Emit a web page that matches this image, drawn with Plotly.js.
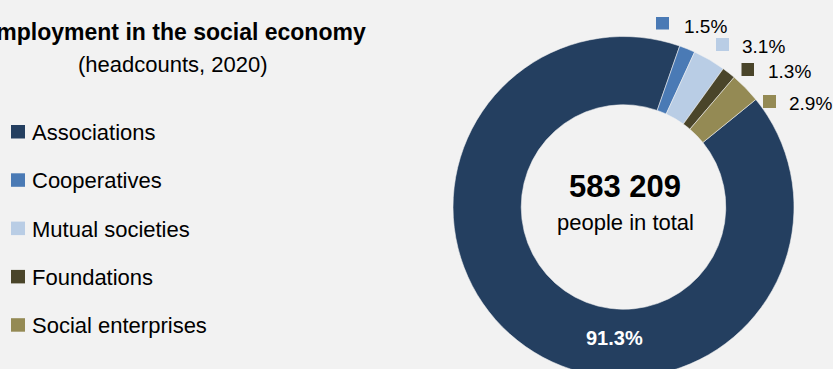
<!DOCTYPE html>
<html>
<head>
<meta charset="utf-8">
<script src="https://cdn.plot.ly/plotly-3.0.1.min.js"></script>
<style>
html,body{margin:0;padding:0;background:#f2f2f2;overflow:hidden;width:833px;height:369px;}
#chart{width:833px;height:390px;}
</style>
</head>
<body>
<div id="chart"></div>
<script>
// ---- data ----
const categories = ['Associations', 'Cooperatives', 'Mutual societies', 'Foundations', 'Social enterprises'];
const shares = [91.3, 1.5, 3.1, 1.3, 2.9];
const totalPeople = '583 209';
const titleText = 'Employment in the social economy';
const subtitleText = '(headcounts, 2020)';
const centerSubText = 'people in total';

// ---- styles ----
const colors = ['#243f60', '#4a7ab5', '#b9cde5', '#4a452a', '#948a54'];
const W = 833, H = 390;
const FONT = 'Liberation Sans, Arial, sans-serif';
const px = x => x / W;
const py = y => 1 - y / H;

const shareText = shares.map(v => v.toFixed(1) + '%');

const cx = 623.5, cy = 207, R = 170.5;

const data = [{
  type: 'pie',
  labels: categories,
  values: shares,
  sort: false,
  direction: 'clockwise',
  rotation: 50.9,
  hole: 0.6,
  textinfo: 'none',
  hoverinfo: 'skip',
  showlegend: false,
  marker: {colors: colors, line: {color: 'rgba(242,242,242,0.7)', width: 0.8}},
  domain: {x: [px(cx - R), px(cx + R)], y: [py(cy + R), py(cy - R)]}
}];

const annotations = [];
const shapes = [];

function addText(text, x, y, size, color, anchor) {
  annotations.push({
    xref: 'paper', yref: 'paper', x: px(x), y: py(y),
    xanchor: anchor || 'left', yanchor: 'middle',
    text: text, showarrow: false,
    font: {family: FONT, size: size, color: color || '#000'}
  });
}
function addSquare(x0, y0, x1, y1, color) {
  shapes.push({
    type: 'rect', xref: 'paper', yref: 'paper',
    x0: px(x0), x1: px(x1), y0: py(y1), y1: py(y0),
    fillcolor: color, line: {width: 0}
  });
}

// title
addText('<b>' + titleText + '</b>', 173, 31.8, 23, '#000', 'center');
addText(subtitleText, 173, 64.2, 22, '#000', 'center');

// legend (manual)
const legBase = [140, 188.3, 236.6, 284.9, 333.2];
categories.forEach((c, i) => {
  addSquare(11, legBase[i] - 15, 25, legBase[i] - 1.5, colors[i]);
  addText(c, 30, legBase[i] - 7.6, 22, '#000', 'left');
});

// outside percentage labels for small slices
const outPos = [
  null,
  {sq: [656, 17, 669, 29.5], tx: 682, ty: 26.4},
  {sq: [716, 38, 729, 51], tx: 740, ty: 46.4},
  {sq: [741.5, 63, 754, 76], tx: 766, ty: 71.4},
  {sq: [763, 95, 776, 108], tx: 787, ty: 103.4}
];
for (let i = 1; i < categories.length; i++) {
  const p = outPos[i];
  addSquare(p.sq[0], p.sq[1], p.sq[2], p.sq[3], colors[i]);
  addText(shareText[i], p.tx, p.ty, 19, '#000', 'left');
}

// big slice label
addText('<b>' + shareText[0] + '</b>', 614.5, 338, 20, '#ffffff', 'center');

// centre text
addText('<b>' + totalPeople + '</b>', 625, 186.2, 31, '#000', 'center');
addText(centerSubText, 625, 222.4, 22, '#000', 'center');

const layout = {
  width: W, height: H,
  margin: {l: 0, r: 0, t: 0, b: 0},
  paper_bgcolor: '#f2f2f2',
  plot_bgcolor: '#f2f2f2',
  showlegend: false,
  annotations: annotations,
  shapes: shapes,
  font: {family: FONT}
};

Plotly.newPlot('chart', data, layout, {displayModeBar: false, staticPlot: true});
</script>
</body>
</html>
